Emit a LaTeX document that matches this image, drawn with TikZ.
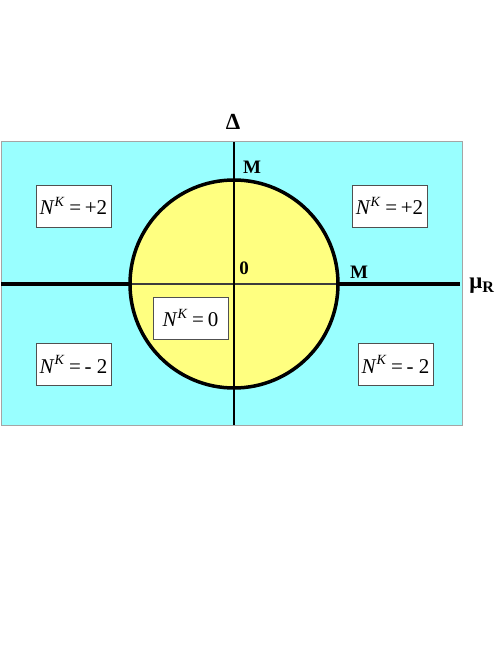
\documentclass[tikz,border=0pt]{standalone}
\usepackage{fontspec}
\setmainfont{Liberation Serif}
\usetikzlibrary{positioning}
\definecolor{cyanbg}{RGB}{153,255,255}
\definecolor{yellowdisk}{RGB}{255,255,128}
\definecolor{framegray}{RGB}{165,165,165}
\definecolor{boxgray}{RGB}{80,80,80}
\definecolor{axisgray}{RGB}{60,60,60}
\tikzset{
  region/.style={
    rectangle, draw=boxgray, fill=white, line width=0.9pt,
    minimum width=75pt, minimum height=42pt, inner sep=1pt,
    font=\fontsize{21}{24}\selectfont
  },
  axislbl/.style={font=\fontsize{23}{26}\selectfont\bfseries, inner sep=0pt},
  ptlbl/.style={font=\fontsize{19}{22}\selectfont\bfseries, inner sep=0pt},
  thickax/.style={line width=3.8pt},
  thinax/.style={line width=1.3pt}
}
\newcommand{\nkval}[1]{\textit{N}\raisebox{0.42em}{\fontsize{14}{14}\selectfont\textit{K}}\hspace{0.22em}=\hspace{0.18em}#1}

\begin{document}
\begin{tikzpicture}[x=1pt, y=-1pt]
  \useasboundingbox (0,0) rectangle (498,645);
  % background plane
  \fill[cyanbg] (1,141) rectangle (462,425);
  \draw[framegray, line width=1pt] (1,141) rectangle (462,425);

  \coordinate (O) at (234,284);
  \coordinate (west) at (1,284);
  \coordinate (east) at (460,284);
  \coordinate (north) at (234,142);
  \coordinate (south) at (234,425);
  \coordinate (cleft) at (130,284);
  \coordinate (cright) at (338,284);

  % disk
  \fill[yellowdisk] (O) circle[radius=104];
  \draw[axisgray, thinax] (cleft) -- (cright);
  \draw[black, thinax] (north) -- (south);
  \draw[black, line width=3.5pt] (O) circle[radius=104];
  \draw[thickax] (west) -- (cleft);
  \draw[thickax] (cright) -- (east);

  % labels
  \node[axislbl] (delta) at (233,122) {Δ};
  \node[axislbl] (mu) at (482,286) {μ\textsubscript{\bfseries R}};
  \node[ptlbl] (mtop) at (252,167) {M};
  \node[ptlbl] (mright) at (359,272) {M};
  \node[ptlbl] (zero) at (244,268) {0};

  % regions
  \node[region] (tl) at (73.5,206) {\nkval{+2}};
  \node[region] (tr) at (389.5,206) {\nkval{+2}};
  \node[region] (bl) at (73.5,364.5) {\nkval{- 2}};
  \node[region] (br) at (395.5,364.5) {\nkval{- 2}};
  \node[region] (mid) at (190.5,318) {\nkval{0}};
\end{tikzpicture}
\end{document}
